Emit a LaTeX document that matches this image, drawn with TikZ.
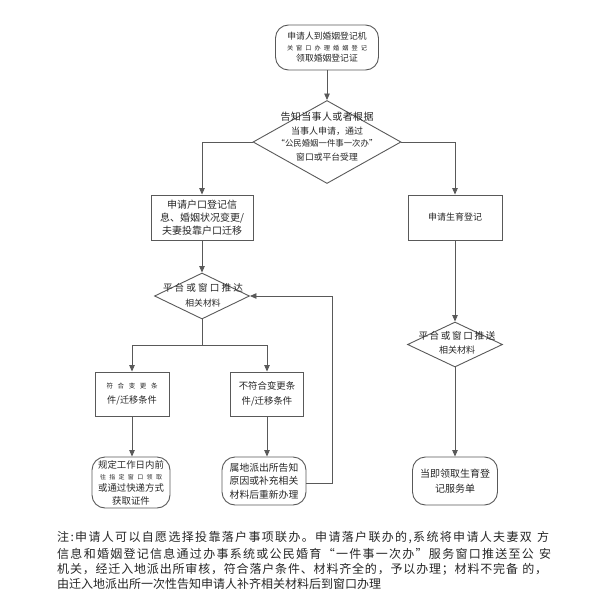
\documentclass[tikz,border=0pt]{standalone}
\usepackage{fontspec}
\setmainfont{Noto Sans CJK SC}
\usetikzlibrary{shapes.geometric,arrows.meta}
\makeatletter
\def\spr@first#1{#1\spr@rest}
\def\spr@rest#1{\ifx\relax#1\else\hskip0pt plus 1fil#1\expandafter\spr@rest\fi}
\newcommand{\spread}[2]{\makebox[#1][s]{\spr@first#2\relax}}
\makeatother
\newcommand{\fs}[1]{\fontsize{#1}{#1}\selectfont}
\definecolor{ink}{gray}{0.15}
\definecolor{edge}{gray}{0.35}
\begin{document}
\begin{tikzpicture}[x=1pt,y=-1pt,
  line/.style={draw=edge, line width=0.9pt},
  arr/.style={line, -{Triangle[length=6.5pt,width=5.5pt]}},
  rect/.style={draw=edge, line width=0.9pt, inner sep=0pt, align=center, text=ink},
  rbox/.style={rect, rounded corners=13pt},
  dia/.style={draw=edge, line width=0.9pt, diamond, inner sep=0pt},
  txt/.style={inner sep=0pt, align=center, text=ink},
  note/.style={inner sep=0pt, anchor=west, text=ink, font=\fs{12}}
]
\useasboundingbox (0,0) rectangle (595,599);

% top rounded box
\node[rbox, minimum width=103pt, minimum height=45pt] (top) at (327,47.5) {};
\node[txt] at (top) {\fs{8.8}申请人到婚姻登记机\\[-1pt]
  {\fs{6.2}\spread{80pt}{关窗口办理婚姻登记}}\\[-1pt]
  \fs{8.8}领取婚姻登记证};

% diamond 1
\node[dia, minimum width=148pt, minimum height=83pt] (d1) at (327,142) {};
\node[txt] at (327,136.5) {{\fs{10}\spread{93pt}{告知当事人或者根据}}\\[1.5pt]
  \fs{9}当事人申请，通过\\[0.5pt]
  \fs{8.4}“公民婚姻一件事一次办”\\[1.5pt]
  \fs{8.8}窗口或平台受理};

% left box
\node[rect, minimum width=102pt, minimum height=45pt] (b3) at (202,217.5)
  {\fs{10}申请户口登记信\\[1pt]\fs{10}息、婚姻状况变更/\\[1pt]\fs{10}夫妻投靠户口迁移};

% right box
\node[rect, minimum width=94pt, minimum height=45pt] (b4) at (455,217.5)
  {\fs{9}申请生育登记};

% diamond 2
\node[dia, minimum width=95pt, minimum height=46pt] (d2) at (202,296) {};
\node[txt] at (203,295) {{\fs{9.6}\spread{80pt}{平台或窗口推达}}\\[3pt]\fs{8.8}相关材料};

% diamond 3
\node[dia, minimum width=95pt, minimum height=45pt] (d3) at (455,344.5) {};
\node[txt] at (457,342.5) {{\fs{9.6}\spread{77pt}{平台或窗口推送}}\\[2pt]\fs{9}相关材料};

% condition boxes
\node[rect, minimum width=74pt, minimum height=44pt] (b7) at (132,394)
  {{\fs{6.5}\spread{51pt}{符合变更条}}\\[3pt]\fs{9.2}件/迁移条件};
\node[rect, minimum width=73pt, minimum height=44pt] (b8) at (267,394)
  {\fs{9.4}不符合变更条\\[2.5pt]\fs{9.4}件/迁移条件};

% result boxes
\node[rbox, minimum width=78pt, minimum height=51pt] (b9) at (131,482.5)
  {\fs{9.4}规定工作日内前\\[-0.5pt]{\fs{6}\spread{62pt}{往指定窗口领取}}\\[-0.5pt]\fs{9.4}或通过快递方式\\[1pt]\fs{9.4}获取证件};
\node[rbox, minimum width=84pt, minimum height=48pt] (b10) at (264,481)
  {\fs{9.8}属地派出所告知\\[1.5pt]\fs{9.8}原因或补充相关\\[1.5pt]\fs{9.8}材料后重新办理};
\node[rbox, minimum width=85pt, minimum height=48pt] (b11) at (455,481)
  {\fs{10}当即领取生育登\\[3pt]\fs{10}记服务单};

% connectors
\draw[arr] (top.south) -- (d1.north);
\draw[arr] (d1.west) -| (b3.north);
\draw[arr] (d1.east) -| (b4.north);
\draw[arr] (b3.south) -- (d2.north);
\coordinate (j) at (202,345);
\draw[line] (d2.south) -- (j);
\draw[arr] (j) -| (b7.north);
\draw[arr] (j) -| (b8.north);
\draw[arr] (b7.south) -- (b7.south |- b9.north);
\draw[arr] (b8.south) -- (b8.south |- b10.north);
\coordinate (fb) at (332,483);
\draw[arr] (b10.east |- fb) -- (fb) |- (d2.east);
\draw[arr] (b4.south) -- (d3.north);
\draw[arr] (d3.south) -- (b11.north);

% note
\node[note] (n1) at (57,538) {\spread{492pt}{注:申请人可以自愿选择投靠落户事项联办。申请落户联办的,系统将申请人夫妻双~方}};
\node[note] (n2) at (57,554) {\spread{494pt}{信息和婚姻登记信息通过办事系统或公民婚育“一件事一次办”服务窗口推送至公~安}};
\node[note] (n3) at (57,569) {\spread{490pt}{机关，经迁入地派出所审核，符合落户条件、材料齐全的，予以办理；材料不完备~的，}};
\node[note] (n4) at (57,584) {由迁入地派出所一次性告知申请人补齐相关材料后到窗口办理};
\end{tikzpicture}
\end{document}
